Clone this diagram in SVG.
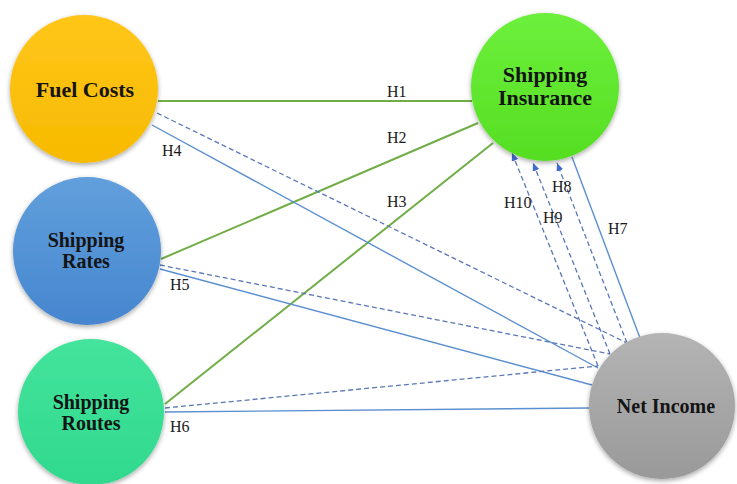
<svg xmlns="http://www.w3.org/2000/svg" width="737" height="484" viewBox="0 0 737 484">
<style>
.node text{font-family:"Liberation Serif","Times New Roman",serif;font-weight:bold;fill:#141414;text-anchor:middle}
.lbl{font-family:"Liberation Serif","Times New Roman",serif;font-size:16px;fill:#1a1a1a}
.g{stroke:#70AD47;stroke-width:2;fill:none}
.b{stroke:#5B8FCF;stroke-width:1.4;fill:none}
.d{stroke:#5A78B8;stroke-width:1.3;stroke-dasharray:5 3;fill:none}
</style>
<defs>
<marker id="ah" markerUnits="userSpaceOnUse" markerWidth="9" markerHeight="8" refX="8" refY="3.5" orient="auto">
<path d="M0,0 L8,3.5 L0,7 z" fill="#3F6AD0"/>
</marker>
<filter id="sh" x="-20%" y="-20%" width="140%" height="140%">
<feGaussianBlur in="SourceAlpha" stdDeviation="2.5"/>
<feOffset dx="0" dy="1.5" result="b"/>
<feComponentTransfer><feFuncA type="linear" slope="0.35"/></feComponentTransfer>
<feMerge><feMergeNode/><feMergeNode in="SourceGraphic"/></feMerge>
</filter>
<linearGradient id="gFuel" x1="0" y1="0" x2="0" y2="1"><stop offset="0" stop-color="#FFC61A"/><stop offset="1" stop-color="#F7BA00"/></linearGradient>
<linearGradient id="gIns" x1="0" y1="0" x2="0" y2="1"><stop offset="0" stop-color="#6DF03C"/><stop offset="1" stop-color="#55DE22"/></linearGradient>
<linearGradient id="gRates" x1="0" y1="0" x2="0" y2="1"><stop offset="0" stop-color="#619FDC"/><stop offset="1" stop-color="#4686CF"/></linearGradient>
<linearGradient id="gRoutes" x1="0" y1="0" x2="0" y2="1"><stop offset="0" stop-color="#44E39C"/><stop offset="1" stop-color="#30D98E"/></linearGradient>
<linearGradient id="gNet" x1="0" y1="0" x2="0" y2="1"><stop offset="0" stop-color="#B4B4B4"/><stop offset="1" stop-color="#999999"/></linearGradient>
</defs>
<rect width="737" height="484" fill="#ffffff"/>

<g id="connectors">
<line class="g" x1="158" y1="101" x2="472" y2="101"/>
<line class="g" x1="161" y1="259" x2="478" y2="123"/>
<line class="g" x1="165" y1="404" x2="493" y2="143"/>
<line class="b" x1="152" y1="125" x2="598" y2="368"/>
<line class="b" x1="160" y1="269" x2="592" y2="385"/>
<line class="b" x1="165" y1="412" x2="589" y2="408"/>
<line class="b" x1="640" y1="338" x2="572" y2="157"/>
<line class="d" x1="157" y1="113" x2="627" y2="343"/>
<line class="d" x1="160" y1="265" x2="610" y2="354"/>
<line class="d" x1="165" y1="408" x2="598" y2="366"/>
<line class="d" x1="627" y1="343" x2="557" y2="163" marker-end="url(#ah)"/>
<line class="d" x1="610" y1="354" x2="533" y2="163" marker-end="url(#ah)"/>
<line class="d" x1="598" y1="366" x2="512" y2="153" marker-end="url(#ah)"/>
<text class="lbl" x="387" y="97">H1</text>
<text class="lbl" x="387" y="143">H2</text>
<text class="lbl" x="387" y="207">H3</text>
<text class="lbl" x="162" y="156">H4</text>
<text class="lbl" x="170" y="290">H5</text>
<text class="lbl" x="170" y="432">H6</text>
<text class="lbl" x="608" y="234">H7</text>
<text class="lbl" x="552" y="192">H8</text>
<text class="lbl" x="543" y="223">H9</text>
<text class="lbl" x="504" y="208">H10</text>
</g>

<g id="fuel-costs" class="node">
<circle cx="84" cy="89" r="74" fill="url(#gFuel)" filter="url(#sh)"/>
<text x="85" y="97" font-size="22">Fuel Costs</text>
</g>
<g id="shipping-insurance" class="node">
<circle cx="545" cy="87" r="74" fill="url(#gIns)" filter="url(#sh)"/>
<text x="545" y="82" font-size="22">Shipping</text>
<text x="545" y="105" font-size="22">Insurance</text>
</g>
<g id="shipping-rates" class="node">
<circle cx="87" cy="251" r="74" fill="url(#gRates)" filter="url(#sh)"/>
<text x="86" y="247" font-size="20">Shipping</text>
<text x="86" y="268" font-size="20">Rates</text>
</g>
<g id="shipping-routes" class="node">
<circle cx="91" cy="412" r="73" fill="url(#gRoutes)" filter="url(#sh)"/>
<text x="91" y="409" font-size="20">Shipping</text>
<text x="91" y="430" font-size="20">Routes</text>
</g>
<g id="net-income" class="node">
<circle cx="662" cy="406" r="73" fill="url(#gNet)" filter="url(#sh)"/>
<text x="666" y="413" font-size="20">Net Income</text>
</g>
</svg>
